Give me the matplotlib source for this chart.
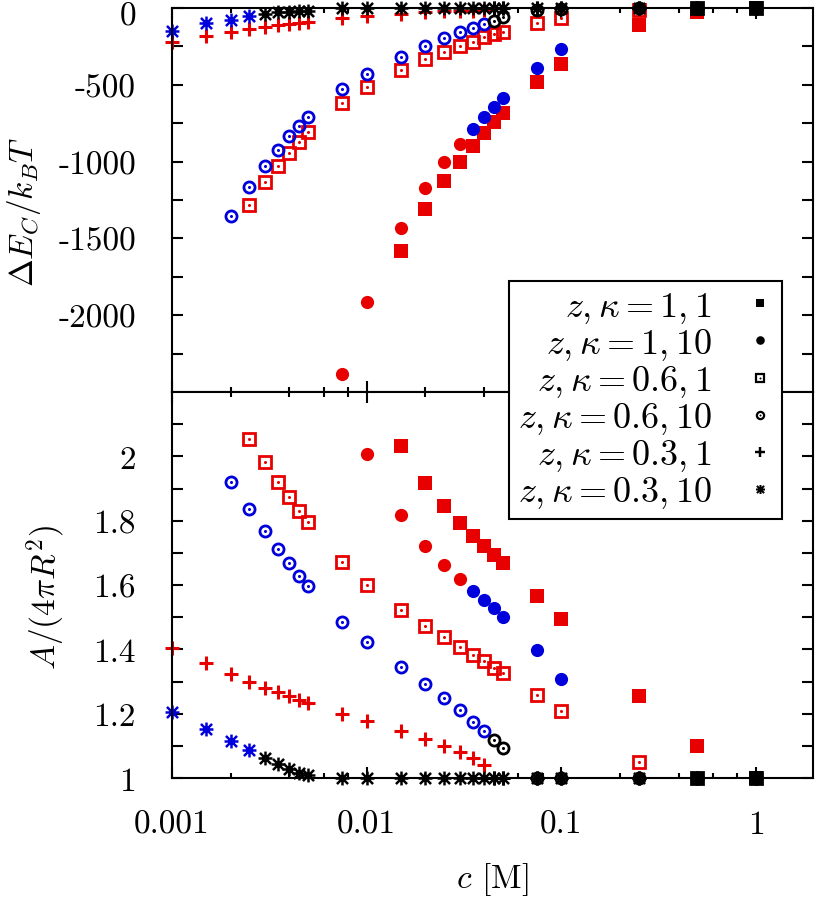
import numpy as np
import matplotlib
matplotlib.use('Agg')
import matplotlib.pyplot as plt
from matplotlib.path import Path
from matplotlib.lines import Line2D
from matplotlib.transforms import ScaledTranslation
from matplotlib.ticker import FixedLocator, FixedFormatter, LogLocator, NullFormatter

plt.rcParams['font.family'] = 'serif'
plt.rcParams['font.serif'] = ['cmr10']
plt.rcParams['mathtext.fontset'] = 'cm'
plt.rcParams['axes.unicode_minus'] = False
plt.rcParams['axes.formatter.use_mathtext'] = True

# state of each point: 0 = red, 1 = blue, 2 = black

# z,kappa = 1,1
c_11 = [0.015, 0.02, 0.025, 0.03, 0.035, 0.04, 0.045, 0.05, 0.075, 0.1, 0.25, 0.5, 1]
E_11 = [-1582, -1309, -1126, -1003, -898, -814, -742, -684, -482, -365, -111, -26, 0]
A_11 = [2.031, 1.916, 1.845, 1.793, 1.753, 1.72, 1.693, 1.668, 1.565, 1.494, 1.255, 1.10, 1.0]
st_11 = [0, 0, 0, 0, 0, 0, 0, 0, 0, 0, 0, 0, 2]

# z,kappa = 1,10
c_110 = [0.0075, 0.01, 0.015, 0.02, 0.025, 0.03, 0.035, 0.04, 0.045, 0.05, 0.075, 0.1, 0.25, 0.5, 1]
E_110 = [-2383, -1914, -1432, -1172, -1003, -885, -788, -710, -644, -586, -391, -267, 0, 0, 0]
A_110 = [np.nan, 2.006, 1.817, 1.722, 1.661, 1.618, 1.582, 1.553, 1.528, 1.50, 1.397, 1.307, 1, 1, 1]
st_110 = [0, 0, 0, 0, 0, 0, 1, 1, 1, 1, 1, 1, 2, 2, 2]

# z,kappa = 0.6,1
c_061 = [0.0025, 0.003, 0.0035, 0.004, 0.0045, 0.005, 0.0075, 0.01, 0.015, 0.02, 0.025,
         0.03, 0.035, 0.04, 0.045, 0.05, 0.075, 0.1, 0.25, 0.5, 1]
E_061 = [-1283, -1133, -1028, -944, -872, -807, -618, -514, -404, -332, -286,
         -247, -221, -192, -172, -156, -98, -65, -13, 0, 0]
A_061 = [2.053, 1.981, 1.919, 1.873, 1.829, 1.795, 1.67, 1.599, 1.522, 1.471, 1.438,
         1.407, 1.381, 1.363, 1.343, 1.326, 1.258, 1.208, 1.05, 1, 1]
st_061 = [0] * 19 + [2, 2]

# z,kappa = 0.6,10
c_0610 = [0.002, 0.0025, 0.003, 0.0035, 0.004, 0.0045, 0.005, 0.0075, 0.01, 0.015, 0.02,
          0.025, 0.03, 0.035, 0.04, 0.045, 0.05, 0.075, 0.1, 0.25, 0.5, 1]
E_0610 = [-1354, -1165, -1029, -924, -833, -768, -710, -527, -430, -319, -247,
          -195, -156, -130, -101, -82, -57, -10, -5, 0, 0, 0]
A_0610 = [1.919, 1.835, 1.767, 1.711, 1.668, 1.627, 1.596, 1.485, 1.424, 1.346, 1.292,
          1.249, 1.210, 1.175, 1.146, 1.117, 1.092, 1, 1, 1, 1, 1]
st_0610 = [1] * 15 + [2] * 7

# z,kappa = 0.3,1
c_031 = [0.001, 0.0015, 0.002, 0.0025, 0.003, 0.0035, 0.004, 0.0045, 0.005, 0.0075, 0.01,
         0.015, 0.02, 0.025, 0.03, 0.035, 0.04, 0.045, 0.05, 0.075, 0.1, 0.25, 0.5, 1]
E_031 = [-221, -181, -157, -137, -122, -111, -104, -98, -93, -65, -54,
         -39, -26, -22, -20, -18, -16, 0, 0, 0, 0, 0, 0, 0]
A_031 = [1.404, 1.357, 1.323, 1.300, 1.281, 1.266, 1.254, 1.243, 1.234, 1.199, 1.178,
         1.145, 1.121, 1.100, 1.081, 1.062, 1.041, 1, 1, 1, 1, 1, 1, 1]
st_031 = [0] * 17 + [2] * 7

# z,kappa = 0.3,10
c_0310 = [0.001, 0.0015, 0.002, 0.0025, 0.003, 0.0035, 0.004, 0.0045, 0.005, 0.0075, 0.01,
          0.015, 0.02, 0.025, 0.03, 0.035, 0.04, 0.045, 0.05, 0.075, 0.1, 0.25, 0.5, 1]
E_0310 = [-149, -100, -78, -54, -39, -28, -24, -20, -17, 0, 0,
          0, 0, 0, 0, 0, 0, 0, 0, 0, 0, 0, 0, 0]
A_0310 = [1.205, 1.152, 1.115, 1.087, 1.062, 1.043, 1.028, 1.016, 1.009, 1, 1,
          1, 1, 1, 1, 1, 1, 1, 1, 1, 1, 1, 1, 1]
st_0310 = [1] * 4 + [2] * 20

labels = [r'$z,\kappa=1,1$', r'$z,\kappa=1,10$', r'$z,\kappa=0.6,1$',
          r'$z,\kappa=0.6,10$', r'$z,\kappa=0.3,1$', r'$z,\kappa=0.3,10$']

colors = {0: '#e80000', 1: '#0000dc', 2: 'black'}

a = 0.8
star = Path([(-1, 0), (1, 0), (0, -1), (0, 1), (-a, -a), (a, a), (-a, a), (a, -a)],
            [Path.MOVETO, Path.LINETO] * 4)

dot = dict(marker='o', ms=2.2, mew=0)
styles = [
    [dict(marker='s', ms=9.5, mew=0)],
    [dict(marker='o', ms=9.5, mew=0)],
    [dict(marker='s', ms=8.3, mew=2.0, mfc='none'), dot],
    [dict(marker='o', ms=8.0, mew=2.0, mfc='none'), dot],
    [dict(marker='+', ms=10.5, mew=2.2)],
    [dict(marker=star, ms=10, mew=1.8, mfc='none')],
]


def draw(ax, c, y, st, style_list):
    c = np.asarray(c)
    y = np.asarray(y, dtype=float)
    st = np.asarray(st)
    for s, col in colors.items():
        m = st == s
        if not m.any():
            continue
        for sty in style_list:
            ax.plot(c[m], y[m], ls='none', color=col, mec=col, clip_on=False, **sty)


fig = plt.figure(figsize=(8.2, 9.04), dpi=100)
ax1 = fig.add_axes([172 / 820, 1 - 393 / 904, 641 / 820, 384 / 904])
ax2 = fig.add_axes([172 / 820, 1 - 779 / 904, 641 / 820, 386 / 904])

series = [(c_11, E_11, A_11, st_11), (c_110, E_110, A_110, st_110),
          (c_061, E_061, A_061, st_061), (c_0610, E_0610, A_0610, st_0610),
          (c_031, E_031, A_031, st_031), (c_0310, E_0310, A_0310, st_0310)]
for (c, E, A, st), sty in zip(series, styles):
    draw(ax1, c, E, st, sty)
    draw(ax2, c, A, st, sty)

fs = 24
for ax in (ax1, ax2):
    ax.set_xscale('log')
    ax.set_xlim(0.001, 1.96)
    ax.xaxis.set_major_locator(FixedLocator([0.001, 0.01, 0.1, 1]))
    ax.xaxis.set_minor_locator(LogLocator(base=10, subs=[2, 4, 6, 8]))
    ax.xaxis.set_minor_formatter(NullFormatter())
    ax.tick_params(which='both', direction='in', top=True, right=True, width=1.5,
                   labelsize=fs)
    ax.tick_params(which='major', length=8)
    ax.tick_params(axis='x', which='minor', length=3.8)
    ax.tick_params(axis='y', which='minor', length=8)
    ax.tick_params(axis='y', pad=26)
    ax.tick_params(axis='x', pad=23)
    for sp in ax.spines.values():
        sp.set_linewidth(1.5)

ax1.tick_params(labelbottom=False)
ax1.set_ylim(-2500, 0)
ax1.yaxis.set_major_locator(FixedLocator([0, -500, -1000, -1500, -2000]))
ax1.yaxis.set_major_formatter(FixedFormatter(['0', '-500', '-1000', '-1500', '-2000']))
ax1.yaxis.set_minor_locator(FixedLocator([-250, -750, -1250, -1750, -2250]))

ax2.set_ylim(1, 2.2)
ax2.yaxis.set_major_locator(FixedLocator([1, 1.2, 1.4, 1.6, 1.8, 2.0]))
ax2.yaxis.set_major_formatter(FixedFormatter(['1', '1.2', '1.4', '1.6', '1.8', '2']))
ax2.yaxis.set_minor_locator(FixedLocator([1.1, 1.3, 1.5, 1.7, 1.9, 2.1]))
ax2.xaxis.set_major_formatter(FixedFormatter(['0.001', '0.01', '0.1', '1']))

# nudge the top "0" label down so it stays inside the figure
top_tick = ax1.yaxis.get_major_ticks()[0]
top_tick.label1.set_transform(top_tick.label1.get_transform()
                              + ScaledTranslation(0, -5 / 100, fig.dpi_scale_trans))

fig.text(24 / 820, 1 - 212 / 904, r'$\Delta E_C/k_BT$', rotation=90,
         ha='center', va='center', fontsize=fs)
fig.text(46 / 820, 1 - 598 / 904, r'$A/(4\pi R^2)$', rotation=90,
         ha='center', va='center', fontsize=fs)
fig.text(492 / 820, 1 - 880 / 904, r'$c$ [M]', ha='center', va='center', fontsize=fs)

# legend with black symbols
handles = []
for sty in styles:
    parts = []
    for s in sty:
        s2 = dict(s)
        s2['ms'] = s2['ms'] * 0.65
        if 'mew' in s2 and s2['mew'] > 0:
            s2['mew'] = s2['mew'] * 0.8
        parts.append(Line2D([], [], ls='none', color='black', mec='black', **s2))
    handles.append(tuple(parts) if len(parts) > 1 else parts[0])

leg = fig.legend(handles, labels, loc='upper right', bbox_to_anchor=(782 / 820, 1 - 282 / 904),
                 markerfirst=False, frameon=True, fancybox=False, edgecolor='black',
                 framealpha=1, fontsize=26, handlelength=0.7, handletextpad=1.0,
                 labelspacing=0.03, borderpad=0.25, borderaxespad=0)
leg.get_frame().set_linewidth(1.5)

fig.savefig('out.png', dpi=100)
